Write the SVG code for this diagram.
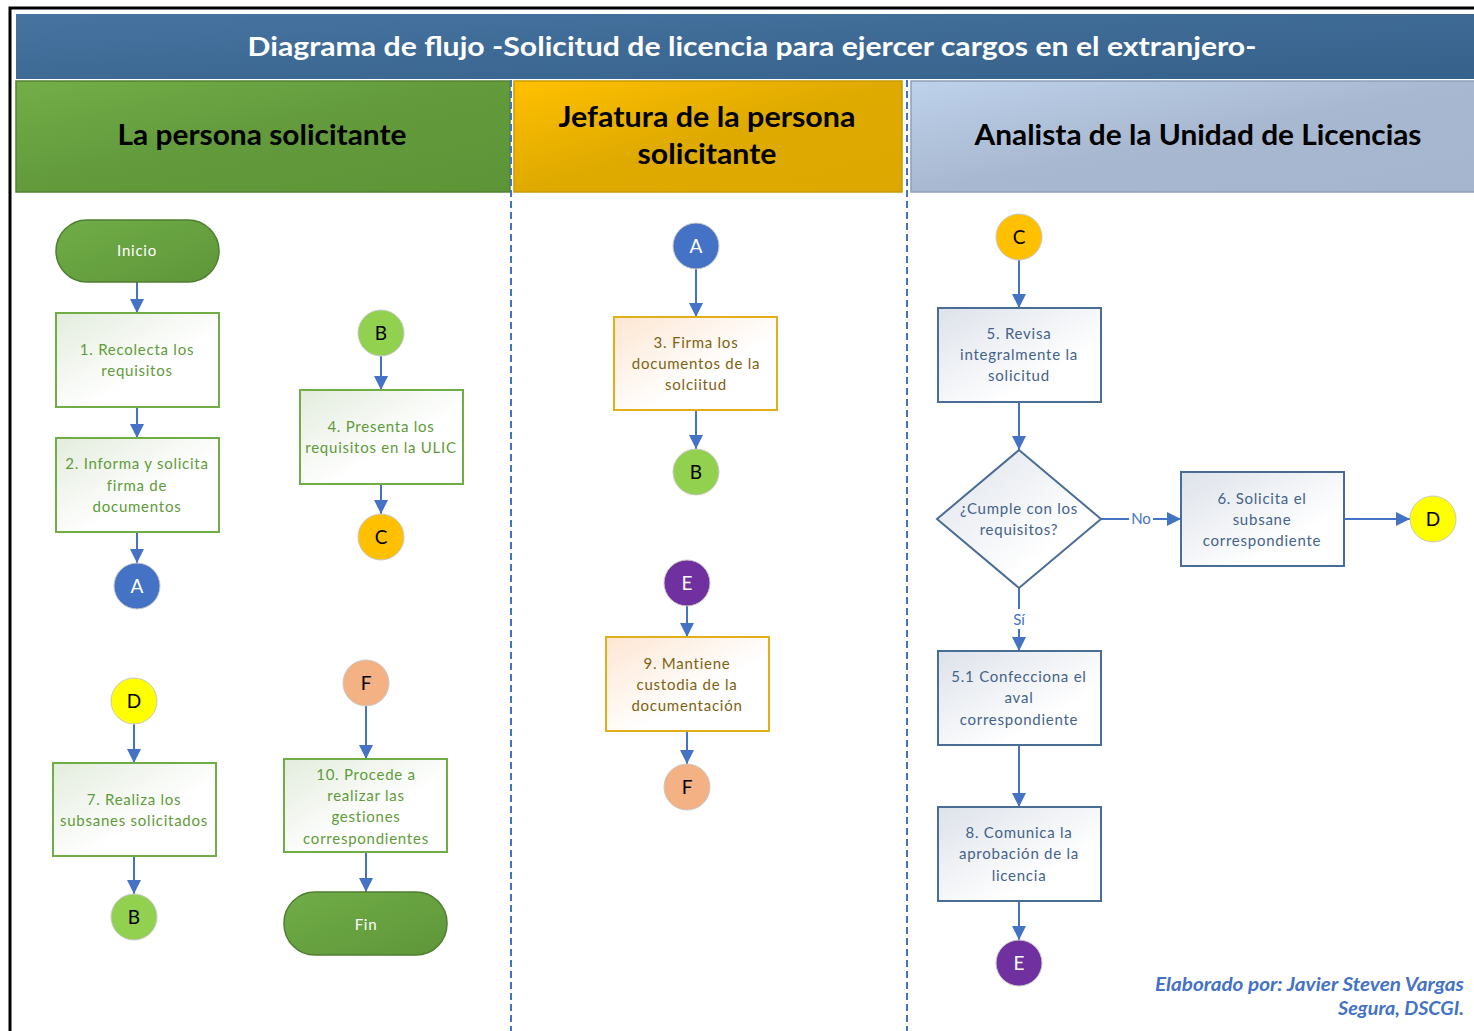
<svg xmlns="http://www.w3.org/2000/svg" width="1474" height="1031" viewBox="0 0 1474 1031">
<defs>
<linearGradient id="gTitle" x1="0" y1="0" x2="1" y2="1"><stop offset="0" stop-color="#4673a0"/><stop offset="1" stop-color="#35618a"/></linearGradient>
<linearGradient id="gGreen" x1="0" y1="0" x2="1" y2="1"><stop offset="0" stop-color="#72ae48"/><stop offset="0.5" stop-color="#629a3c"/><stop offset="1" stop-color="#5d9437"/></linearGradient>
<linearGradient id="gYellow" x1="0" y1="0" x2="1" y2="1"><stop offset="0" stop-color="#ffc000"/><stop offset="0.5" stop-color="#dfaa00"/><stop offset="1" stop-color="#dca700"/></linearGradient>
<linearGradient id="gBlue" x1="0" y1="0" x2="1" y2="1"><stop offset="0" stop-color="#bed2eb"/><stop offset="0.5" stop-color="#a8b8d0"/><stop offset="1" stop-color="#a4b5cd"/></linearGradient>
<linearGradient id="gTerm" x1="0" y1="0" x2="1" y2="1"><stop offset="0" stop-color="#70ad47"/><stop offset="1" stop-color="#5e9639"/></linearGradient>
<linearGradient id="gBoxG" x1="0" y1="0" x2="1" y2="1"><stop offset="0" stop-color="#e3ecdd"/><stop offset="0.6" stop-color="#ffffff"/></linearGradient>
<linearGradient id="gBoxY" x1="0" y1="0" x2="1" y2="1"><stop offset="0" stop-color="#fde6d2"/><stop offset="0.6" stop-color="#ffffff"/></linearGradient>
<linearGradient id="gBoxB" x1="0" y1="0" x2="1" y2="1"><stop offset="0" stop-color="#dde2ea"/><stop offset="0.7" stop-color="#ffffff"/></linearGradient>
<marker id="arr" markerUnits="userSpaceOnUse" markerWidth="16" markerHeight="14" refX="14" refY="7" orient="auto">
<path d="M0,0 L14,7 L0,14 Z" fill="#4472c4"/>
</marker>
</defs>
<style>
.conn{stroke:#4472c4;stroke-width:2;fill:none;marker-end:url(#arr)}
.lane{stroke:#4472c4;stroke-width:2;stroke-dasharray:7,4;fill:none}
.hdr{font-family:Lato,"Liberation Sans",sans-serif;font-weight:bold;font-size:28px;fill:#000;text-anchor:middle}
.t{font-family:Lato,"Liberation Sans",sans-serif;font-size:15px;text-anchor:middle;letter-spacing:0.75px}
.tg{fill:#5f9b3a}
.ty{fill:#7f6210}
.tb{fill:#44638a}
.boxG{fill:url(#gBoxG);stroke:#70ad47;stroke-width:2}
.boxY{fill:url(#gBoxY);stroke:#e2ae1c;stroke-width:2}
.boxB{fill:url(#gBoxB);stroke:#4a6d96;stroke-width:2}
.term{fill:url(#gTerm);stroke:#507e32;stroke-width:1.5}
.circ{stroke:#c8c8c8;stroke-width:1}
.cl{font-family:Lato,"Liberation Sans",sans-serif;font-size:19px;text-anchor:middle}
.lbl{font-family:Lato,"Liberation Sans",sans-serif;font-size:15px;fill:#4472c4;text-anchor:middle}
.ft{font-family:Lato,"Liberation Sans",sans-serif;font-weight:bold;font-style:italic;font-size:18px;fill:#4472c4;text-anchor:end}
</style>
<rect width="1474" height="1031" fill="#ffffff"/>
<path d="M10,1031 L10,8 L1474,8" fill="none" stroke="#000" stroke-width="3"/>

<g id="title">
<rect x="16" y="14" width="1460" height="65" fill="url(#gTitle)"/>
<text x="752" y="56" font-family="Lato,'Liberation Sans',sans-serif" font-weight="bold" font-size="27" fill="#fff" text-anchor="middle" textLength="1009" lengthAdjust="spacingAndGlyphs">Diagrama de flujo -Solicitud de licencia para ejercer cargos en el extranjero-</text>
</g>

<g id="lane1">
<rect x="16" y="81" width="494" height="111" fill="url(#gGreen)" stroke="#548235" stroke-width="1.5"/>
<text class="hdr" x="262" y="145" textLength="289" lengthAdjust="spacingAndGlyphs">La persona solicitante</text>
</g>
<g id="lane2">
<rect x="514" y="81" width="388" height="111" fill="url(#gYellow)" stroke="#c99a00" stroke-width="1.5"/>
<text class="hdr" x="707" y="127" textLength="297" lengthAdjust="spacingAndGlyphs">Jefatura de la persona</text>
<text class="hdr" x="707" y="164" textLength="139" lengthAdjust="spacingAndGlyphs">solicitante</text>
</g>
<g id="lane3">
<rect x="911" y="81" width="565" height="111" fill="url(#gBlue)" stroke="#8e9fb8" stroke-width="1.5"/>
<text class="hdr" x="1198" y="145" textLength="447" lengthAdjust="spacingAndGlyphs">Analista de la Unidad de Licencias</text>
</g>

<g id="lanes">
<line class="lane" x1="511" y1="80" x2="511" y2="1031"/>
<line class="lane" x1="907" y1="80" x2="907" y2="1031"/>
</g>

<g id="connectors">
<line class="conn" x1="137" y1="282" x2="137" y2="313"/>
<line class="conn" x1="137" y1="407" x2="137" y2="438"/>
<line class="conn" x1="137" y1="532" x2="137" y2="563"/>
<line class="conn" x1="381" y1="356" x2="381" y2="390"/>
<line class="conn" x1="381" y1="484" x2="381" y2="514"/>
<line class="conn" x1="134" y1="724" x2="134" y2="763"/>
<line class="conn" x1="134" y1="856" x2="134" y2="894"/>
<line class="conn" x1="366" y1="706" x2="366" y2="759"/>
<line class="conn" x1="366" y1="852" x2="366" y2="892"/>
<line class="conn" x1="696" y1="269" x2="696" y2="317"/>
<line class="conn" x1="696" y1="410" x2="696" y2="449"/>
<line class="conn" x1="687" y1="606" x2="687" y2="637"/>
<line class="conn" x1="687" y1="731" x2="687" y2="764"/>
<line class="conn" x1="1019" y1="260" x2="1019" y2="308"/>
<line class="conn" x1="1019" y1="402" x2="1019" y2="450"/>
<line class="conn" x1="1101" y1="519" x2="1181" y2="519"/>
<line class="conn" x1="1344" y1="519" x2="1410" y2="519"/>
<line class="conn" x1="1019" y1="588" x2="1019" y2="651"/>
<line class="conn" x1="1019" y1="745" x2="1019" y2="807"/>
<line class="conn" x1="1019" y1="901" x2="1019" y2="940"/>
<rect x="1129" y="510" width="24" height="18" fill="#fff"/>
<text class="lbl" x="1141" y="524">No</text>
<rect x="1008" y="609" width="22" height="20" fill="#fff"/>
<text class="lbl" x="1019" y="625">Sí</text>
</g>

<g id="inicio">
<rect class="term" x="56" y="220" width="163" height="62" rx="31"/>
<text class="t" x="137" y="256" fill="#fff">Inicio</text>
</g>
<g id="n1">
<rect class="boxG" x="56" y="313" width="163" height="94"/>
<text class="t tg" x="137" y="355">1. Recolecta los</text>
<text class="t tg" x="137" y="376">requisitos</text>
</g>
<g id="n2">
<rect class="boxG" x="56" y="438" width="163" height="94"/>
<text class="t tg" x="137" y="469">2. Informa y solicita</text>
<text class="t tg" x="137" y="491">firma de</text>
<text class="t tg" x="137" y="512">documentos</text>
</g>
<g id="cA1">
<circle class="circ" cx="137" cy="586" r="23" fill="#4472c4"/>
<text class="cl" x="137" y="593" fill="#fff">A</text>
</g>
<g id="cB1">
<circle class="circ" cx="381" cy="333" r="23" fill="#92d050"/>
<text class="cl" x="381" y="340" fill="#000">B</text>
</g>
<g id="n4">
<rect class="boxG" x="300" y="390" width="163" height="94"/>
<text class="t tg" x="381" y="432">4. Presenta los</text>
<text class="t tg" x="381" y="453">requisitos en la ULIC</text>
</g>
<g id="cC1">
<circle class="circ" cx="381" cy="537" r="23" fill="#ffc000"/>
<text class="cl" x="381" y="544" fill="#000">C</text>
</g>
<g id="cD1">
<circle class="circ" cx="134" cy="701" r="23" fill="#ffff00"/>
<text class="cl" x="134" y="708" fill="#000">D</text>
</g>
<g id="n7">
<rect class="boxG" x="53" y="763" width="163" height="93"/>
<text class="t tg" x="134" y="805">7. Realiza los</text>
<text class="t tg" x="134" y="826">subsanes solicitados</text>
</g>
<g id="cB2">
<circle class="circ" cx="134" cy="917" r="23" fill="#92d050"/>
<text class="cl" x="134" y="924" fill="#000">B</text>
</g>
<g id="cF1">
<circle class="circ" cx="366" cy="683" r="23" fill="#f4b183"/>
<text class="cl" x="366" y="690" fill="#000">F</text>
</g>
<g id="n10">
<rect class="boxG" x="284" y="759" width="163" height="93"/>
<text class="t tg" x="366" y="780">10. Procede a</text>
<text class="t tg" x="366" y="801">realizar las</text>
<text class="t tg" x="366" y="822">gestiones</text>
<text class="t tg" x="366" y="844">correspondientes</text>
</g>
<g id="fin">
<rect class="term" x="284" y="892" width="163" height="63" rx="31"/>
<text class="t" x="366" y="930" fill="#fff">Fin</text>
</g>

<g id="cA2">
<circle class="circ" cx="696" cy="246" r="23" fill="#4472c4"/>
<text class="cl" x="696" y="253" fill="#fff">A</text>
</g>
<g id="n3">
<rect class="boxY" x="614" y="317" width="163" height="93"/>
<text class="t ty" x="696" y="348">3. Firma los</text>
<text class="t ty" x="696" y="369">documentos de la</text>
<text class="t ty" x="696" y="390">solciitud</text>
</g>
<g id="cB3">
<circle class="circ" cx="696" cy="472" r="23" fill="#92d050"/>
<text class="cl" x="696" y="479" fill="#000">B</text>
</g>
<g id="cE1">
<circle class="circ" cx="687" cy="583" r="23" fill="#7030a0"/>
<text class="cl" x="687" y="590" fill="#fff">E</text>
</g>
<g id="n9">
<rect class="boxY" x="606" y="637" width="163" height="94"/>
<text class="t ty" x="687" y="669">9. Mantiene</text>
<text class="t ty" x="687" y="690">custodia de la</text>
<text class="t ty" x="687" y="711">documentación</text>
</g>
<g id="cF2">
<circle class="circ" cx="687" cy="787" r="23" fill="#f4b183"/>
<text class="cl" x="687" y="794" fill="#000">F</text>
</g>

<g id="cC2">
<circle class="circ" cx="1019" cy="237" r="23" fill="#ffc000"/>
<text class="cl" x="1019" y="244" fill="#000">C</text>
</g>
<g id="n5">
<rect class="boxB" x="938" y="308" width="163" height="94"/>
<text class="t tb" x="1019" y="339">5. Revisa</text>
<text class="t tb" x="1019" y="360">integralmente la</text>
<text class="t tb" x="1019" y="381">solicitud</text>
</g>
<g id="dec">
<polygon points="1019,450 1101,519 1019,588 937,519" fill="url(#gBoxB)" stroke="#4a6d96" stroke-width="2"/>
<text class="t tb" x="1019" y="514">¿Cumple con los</text>
<text class="t tb" x="1019" y="535">requisitos?</text>
</g>
<g id="n6">
<rect class="boxB" x="1181" y="472" width="163" height="94"/>
<text class="t tb" x="1262" y="504">6. Solicita el</text>
<text class="t tb" x="1262" y="525">subsane</text>
<text class="t tb" x="1262" y="546">correspondiente</text>
</g>
<g id="cD2">
<circle class="circ" cx="1433" cy="519" r="23" fill="#ffff00"/>
<text class="cl" x="1433" y="526" fill="#000">D</text>
</g>
<g id="n51">
<rect class="boxB" x="938" y="651" width="163" height="94"/>
<text class="t tb" x="1019" y="682">5.1 Confecciona el</text>
<text class="t tb" x="1019" y="703">aval</text>
<text class="t tb" x="1019" y="725">correspondiente</text>
</g>
<g id="n8">
<rect class="boxB" x="938" y="807" width="163" height="94"/>
<text class="t tb" x="1019" y="838">8. Comunica la</text>
<text class="t tb" x="1019" y="859">aprobación de la</text>
<text class="t tb" x="1019" y="881">licencia</text>
</g>
<g id="cE2">
<circle class="circ" cx="1019" cy="963" r="23" fill="#7030a0"/>
<text class="cl" x="1019" y="970" fill="#fff">E</text>
</g>

<g id="footer">
<text class="ft" x="1464" y="991" textLength="309" lengthAdjust="spacingAndGlyphs">Elaborado por: Javier Steven Vargas</text>
<text class="ft" x="1464" y="1015" textLength="126" lengthAdjust="spacingAndGlyphs">Segura, DSCGI.</text>
</g>
</svg>
